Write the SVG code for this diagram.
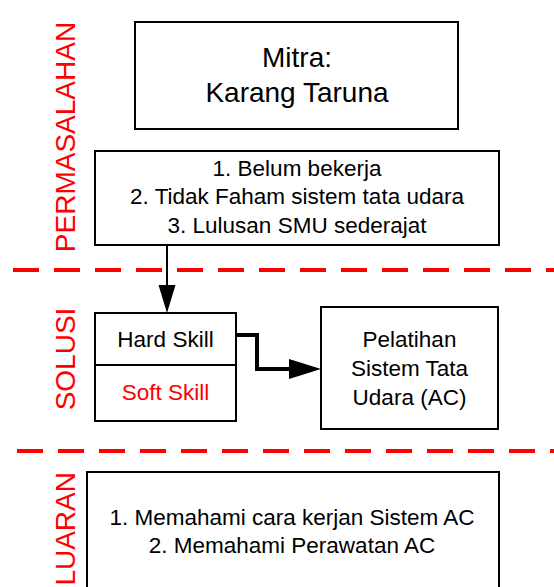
<svg xmlns="http://www.w3.org/2000/svg" width="554" height="587" viewBox="0 0 554 587">
<style>
.box{fill:#fff;stroke:#000;stroke-width:2}
.t{font-family:"Liberation Sans",Arial,sans-serif;font-size:22.5px;fill:#000;text-anchor:middle}
.big{font-size:28px}
.lab{font-family:"Liberation Sans",Arial,sans-serif;font-size:28px;fill:#ff0000;text-anchor:middle}
.dash{stroke:#ff0000;stroke-width:4;stroke-dasharray:26 15;fill:none}
</style>
<rect width="554" height="587" fill="#fff"/>
<g id="lanes">
<line class="dash" x1="13" y1="270" x2="554" y2="270"/>
<line class="dash" x1="17" y1="451" x2="554" y2="451"/>
<text class="lab" transform="translate(75,137) rotate(-90)">PERMASALAHAN</text>
<text class="lab" transform="translate(75,359) rotate(-90)">SOLUSI</text>
<text class="lab" style="text-anchor:end" transform="translate(75,472) rotate(-90)">LUARAN</text>
</g>
<g id="mitra">
<rect class="box" x="135" y="22" width="323" height="107"/>
<text class="t big" x="297" y="67">Mitra:</text>
<text class="t big" x="297" y="102">Karang Taruna</text>
</g>
<g id="masalah">
<rect class="box" x="95" y="151" width="404" height="94"/>
<text class="t" x="297" y="176">1. Belum bekerja</text>
<text class="t" x="297" y="204">2. Tidak Faham sistem tata udara</text>
<text class="t" x="297" y="233">3. Lulusan SMU sederajat</text>
</g>
<g id="skill">
<rect class="box" x="95" y="313" width="141" height="108"/>
<line x1="95" y1="365" x2="236" y2="365" stroke="#000" stroke-width="2"/>
<text class="t" x="165.5" y="347">Hard Skill</text>
<text class="t" x="165.5" y="400" fill="#ff0000" style="fill:#ff0000">Soft Skill</text>
</g>
<g id="pelatihan">
<rect class="box" x="321" y="307" width="177" height="122"/>
<text class="t" x="409.5" y="347">Pelatihan</text>
<text class="t" x="409.5" y="376">Sistem Tata</text>
<text class="t" x="409.5" y="405">Udara (AC)</text>
</g>
<g id="keluaran">
<rect class="box" x="87" y="472" width="412" height="130"/>
<text class="t" x="292" y="525">1. Memahami cara kerjan Sistem AC</text>
<text class="t" x="292" y="553">2. Memahami Perawatan AC</text>
</g>
<g id="connectors">
<line x1="167" y1="245" x2="167" y2="288" stroke="#000" stroke-width="2"/>
<polygon points="158.5,285 175.5,285 167,313" fill="#000"/>
<polyline points="236,335 257,335 257,369 292,369" fill="none" stroke="#000" stroke-width="4"/>
<polygon points="289,359 289,379 321,369" fill="#000"/>
</g>
</svg>
